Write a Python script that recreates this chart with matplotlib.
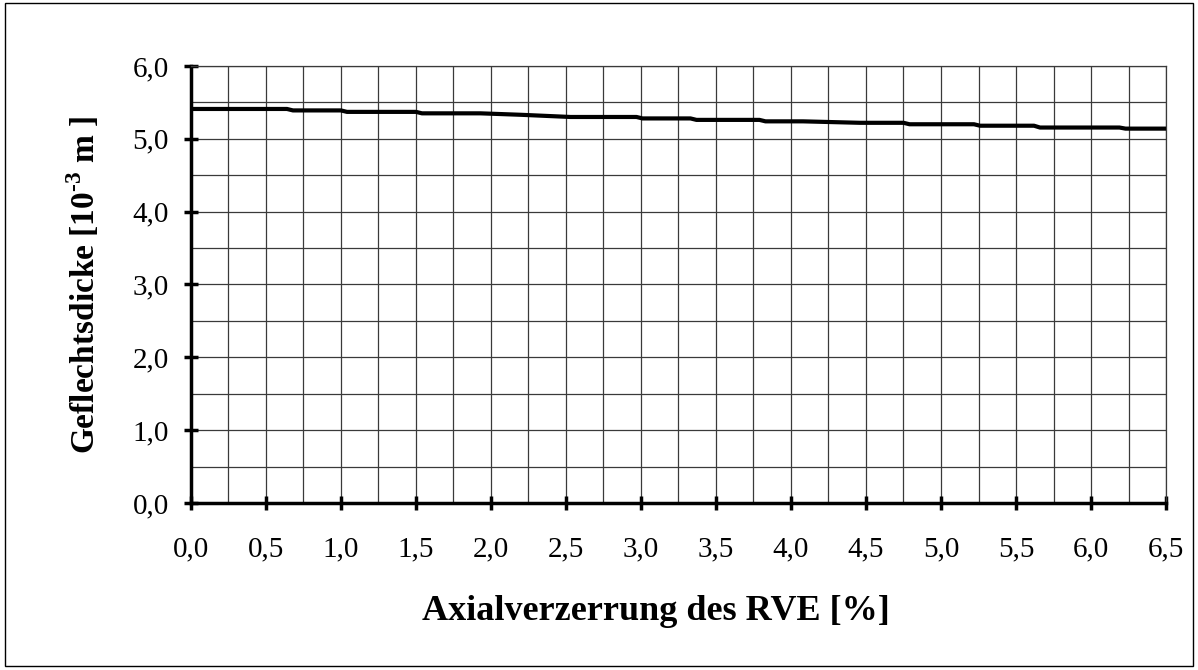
import matplotlib
matplotlib.use("Agg")
import matplotlib.pyplot as plt
from matplotlib.ticker import MultipleLocator, FuncFormatter
from matplotlib.patches import Rectangle

# Axialverzerrung [%] and Geflechtsdicke [10^-3 m]
strain = [0.0, 0.64, 0.68, 1.0, 1.04, 1.5, 1.54, 1.93, 2.2, 2.53, 2.97, 3.01,
          3.33, 3.37, 3.79, 3.83, 4.08, 4.46, 4.75, 4.79, 5.22, 5.26, 5.62,
          5.66, 6.19, 6.23, 6.5]
thickness = [5.41, 5.41, 5.39, 5.39, 5.37, 5.37, 5.35, 5.35, 5.33, 5.30, 5.30,
             5.28, 5.28, 5.26, 5.26, 5.24, 5.24, 5.22, 5.22, 5.20, 5.20, 5.18,
             5.18, 5.155, 5.155, 5.14, 5.14]

plt.rcParams['font.family'] = ['Liberation Serif', 'DejaVu Serif']
plt.rcParams['mathtext.fontset'] = 'custom'
plt.rcParams['mathtext.rm'] = 'Liberation Serif:bold'
plt.rcParams['mathtext.bf'] = 'Liberation Serif:bold'

fig = plt.figure(figsize=(11.98, 6.70), dpi=100)
fig.patches.append(Rectangle((0.004, 0.006), 0.992, 0.99, transform=fig.transFigure,
                             fill=False, edgecolor='black', lw=1.0))

ax = fig.add_axes([0.1594, 0.2493, 0.8139, 0.6522])
ax.plot(strain, thickness, color='black', lw=3.0, solid_joinstyle='round', zorder=3)

ax.set_xlim(0, 6.5)
ax.set_ylim(0, 6.0)
ax.xaxis.set_major_locator(MultipleLocator(0.5))
ax.xaxis.set_minor_locator(MultipleLocator(0.25))
ax.yaxis.set_major_locator(MultipleLocator(1.0))
ax.yaxis.set_minor_locator(MultipleLocator(0.5))
fmt = FuncFormatter(lambda v, p: f"{v:.1f}".replace('.', ','))
ax.xaxis.set_major_formatter(fmt)
ax.yaxis.set_major_formatter(fmt)

ax.grid(which='both', color='#3a3a3a', lw=0.9)
ax.set_axisbelow(True)

for s in ['top', 'right']:
    ax.spines[s].set_color('#3a3a3a')
    ax.spines[s].set_linewidth(0.9)
for s in ['left', 'bottom']:
    ax.spines[s].set_linewidth(2.5)

ax.tick_params(which='major', direction='inout', length=10, width=2.5, labelsize=21)
ax.tick_params(which='minor', length=0)
ax.tick_params(axis='x', pad=19)
ax.tick_params(axis='y', pad=11)

ax.set_xlabel('Axialverzerrung des RVE [%]', fontsize=26, fontweight='bold', labelpad=24)
ax.xaxis.set_label_coords(0.477, -0.21)
ax.set_ylabel(r'Geflechtsdicke [10$^{\text{-3}}$ m ]', fontsize=24, fontweight='bold', labelpad=22)

fig.savefig('out.png', dpi=100)
